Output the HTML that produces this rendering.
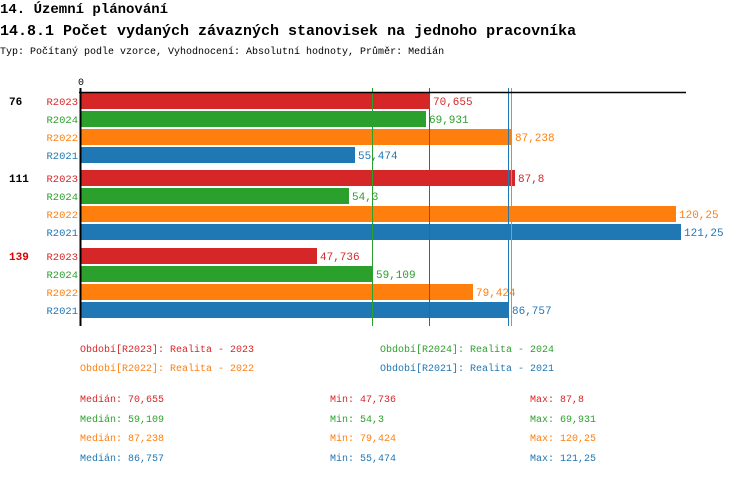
<!DOCTYPE html>
<html><head><meta charset="utf-8"><style>
body{margin:0;background:#fff;width:750px;height:476px;overflow:hidden;font-family:"Liberation Mono",monospace;}
svg text{font-family:"Liberation Mono",monospace;}
</style></head><body>
<svg width="750" height="476" xmlns="http://www.w3.org/2000/svg">
<text x="0" y="13" font-size="14" font-weight="bold">14. Územní plánování</text>
<text x="0" y="35" font-size="15" font-weight="bold">14.8.1 Počet vydaných závazných stanovisek na jednoho pracovníka</text>
<text x="0" y="54" font-size="10">Typ: Počítaný podle vzorce, Vyhodnocení: Absolutní hodnoty, Průměr: Medián</text>
<text x="78" y="85" font-size="10">0</text>
<g font-size="10">
<rect x="81" y="93" width="349" height="16" fill="#d62728"/>
<rect x="81" y="111" width="345" height="16" fill="#2ca02c"/>
<rect x="81" y="129" width="431" height="16" fill="#ff7f0e"/>
<rect x="81" y="147" width="274" height="16" fill="#1f77b4"/>
<rect x="81" y="170" width="434" height="16" fill="#d62728"/>
<rect x="81" y="188" width="268" height="16" fill="#2ca02c"/>
<rect x="81" y="206" width="595" height="16" fill="#ff7f0e"/>
<rect x="81" y="224" width="600" height="16" fill="#1f77b4"/>
<rect x="81" y="248" width="236" height="16" fill="#d62728"/>
<rect x="81" y="266" width="292" height="16" fill="#2ca02c"/>
<rect x="81" y="284" width="392" height="16" fill="#ff7f0e"/>
<rect x="81" y="302" width="428" height="16" fill="#1f77b4"/>
<line x1="372.5" y1="88" x2="372.5" y2="326" stroke="#2ca02c"/>
<line x1="429.5" y1="88" x2="429.5" y2="326" stroke="#d62728"/>
<line x1="508.5" y1="88" x2="508.5" y2="326" stroke="#1f77b4"/>
<line x1="511.5" y1="88" x2="511.5" y2="326" stroke="#ff7f0e"/>
<line x1="79" y1="92.5" x2="686" y2="92.5" stroke="#000" stroke-width="1.5"/>
<line x1="80.5" y1="88" x2="80.5" y2="326" stroke="#000" stroke-width="2"/>
<g font-size="11">
<text x="9" y="105" font-weight="bold">76</text>
<text x="9" y="182" font-weight="bold">111</text>
<text x="9" y="260" font-weight="bold" fill="#e00000">139</text>
</g>
<g text-anchor="end" font-size="10.5">
<text x="78" y="105" fill="#d62728">R2023</text><text x="78" y="123" fill="#2ca02c">R2024</text><text x="78" y="141" fill="#ff7f0e">R2022</text><text x="78" y="159" fill="#1f77b4">R2021</text>
<text x="78" y="182" fill="#d62728">R2023</text><text x="78" y="200" fill="#2ca02c">R2024</text><text x="78" y="218" fill="#ff7f0e">R2022</text><text x="78" y="236" fill="#1f77b4">R2021</text>
<text x="78" y="260" fill="#d62728">R2023</text><text x="78" y="278" fill="#2ca02c">R2024</text><text x="78" y="296" fill="#ff7f0e">R2022</text><text x="78" y="314" fill="#1f77b4">R2021</text>
</g>
<g font-size="11">
<text x="433" y="105" fill="#d62728">70,655</text><text x="429" y="123" fill="#2ca02c">69,931</text><text x="515" y="141" fill="#ff7f0e">87,238</text><text x="358" y="159" fill="#1f77b4">55,474</text>
<text x="518" y="182" fill="#d62728">87,8</text><text x="352" y="200" fill="#2ca02c">54,3</text><text x="679" y="218" fill="#ff7f0e">120,25</text><text x="684" y="236" fill="#1f77b4">121,25</text>
<text x="320" y="260" fill="#d62728">47,736</text><text x="376" y="278" fill="#2ca02c">59,109</text><text x="476" y="296" fill="#ff7f0e">79,424</text><text x="512" y="314" fill="#1f77b4">86,757</text>
</g>
<text x="80" y="352" fill="#d62728">Období[R2023]: Realita - 2023</text>
<text x="380" y="352" fill="#2ca02c">Období[R2024]: Realita - 2024</text>
<text x="80" y="371" fill="#ff7f0e">Období[R2022]: Realita - 2022</text>
<text x="380" y="371" fill="#1f77b4">Období[R2021]: Realita - 2021</text>
<text x="80" y="402" fill="#d62728">Medián: 70,655</text><text x="330" y="402" fill="#d62728">Min: 47,736</text><text x="530" y="402" fill="#d62728">Max: 87,8</text>
<text x="80" y="422" fill="#2ca02c">Medián: 59,109</text><text x="330" y="422" fill="#2ca02c">Min: 54,3</text><text x="530" y="422" fill="#2ca02c">Max: 69,931</text>
<text x="80" y="441" fill="#ff7f0e">Medián: 87,238</text><text x="330" y="441" fill="#ff7f0e">Min: 79,424</text><text x="530" y="441" fill="#ff7f0e">Max: 120,25</text>
<text x="80" y="461" fill="#1f77b4">Medián: 86,757</text><text x="330" y="461" fill="#1f77b4">Min: 55,474</text><text x="530" y="461" fill="#1f77b4">Max: 121,25</text>
</g>
</svg>
</body></html>
